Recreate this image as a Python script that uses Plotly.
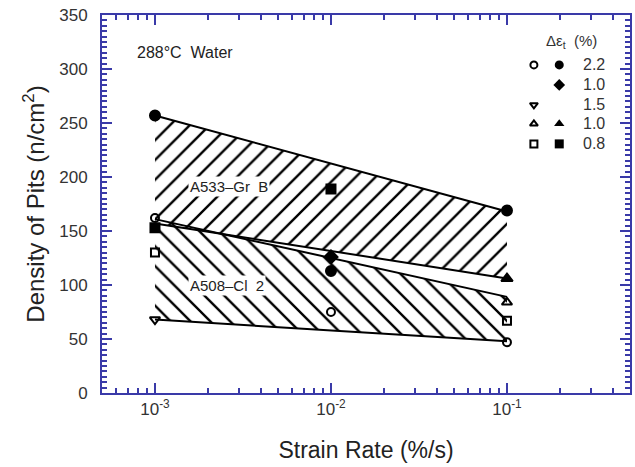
import numpy as np
import plotly.graph_objects as go

# ---------------- data ----------------
strain_rates = [1e-3, 1e-2, 1e-1]

# series: (values at 1e-3, 1e-2, 1e-1); None = no point
filled_circle_22 = [257, 113, 169]
open_circle_22 = [162, 75, 47]
filled_diamond_10 = [None, 126, None]
open_tridown_15 = [68, None, None]
open_triup_10 = [None, None, 84]
filled_triup_10 = [None, None, 106]
open_square_08 = [130, None, 67]
filled_square_08 = [153, 189, None]

# scatter bands (values at 1e-3 and 1e-1)
band_x = [1e-3, 1e-1]
a533_upper = [257, 168]
a533_lower = [157, 106]
a508_upper = [161, 89]
a508_lower = [68, 48]

band_labels = ["A533\u2013Gr  B", "A508\u2013Cl  2"]
legend_values = ["2.2", "1.0", "1.5", "1.0", "0.8"]

y_ticks = [0, 50, 100, 150, 200, 250, 300, 350]
x_ticks = [1e-3, 1e-2, 1e-1]
x_ticktext = ["10<sup>-3</sup>", "10<sup>-2</sup>", "10<sup>-1</sup>"]

# ---------------- figure ----------------
AX = "#3a3aa8"
FONT = "Liberation Sans, Arial, sans-serif"
fig = go.Figure()


def band(upper, lower, shape):
    xs = band_x + band_x[::-1]
    ys = upper + lower[::-1]
    fig.add_trace(go.Scatter(
        x=xs, y=ys, mode="lines", fill="toself",
        line=dict(width=0, color="rgba(0,0,0,0)"),
        fillcolor="rgba(0,0,0,0)",
        fillpattern=dict(shape=shape, fgcolor="#000000", fgopacity=1,
                         bgcolor="rgba(0,0,0,0)", fillmode="replace",
                         size=14, solidity=0.17),
        hoverinfo="skip", showlegend=False))
    for edge in (upper, lower):
        fig.add_trace(go.Scatter(x=band_x, y=edge, mode="lines",
                                 line=dict(color="black", width=2),
                                 hoverinfo="skip", showlegend=False))


band(a533_upper, a533_lower, "/")
band(a508_upper, a508_lower, "\\")

series = [
    (open_circle_22, "circle-open", 8),
    (filled_circle_22, "circle", 10),
    (filled_diamond_10, "diamond", 10),
    (open_tridown_15, "triangle-down-open", 9),
    (open_triup_10, "triangle-up-open", 9),
    (filled_triup_10, "triangle-up", 10),
    (open_square_08, "square-open", 8),
    (filled_square_08, "square", 9),
]
for vals, sym, sz in series:
    fig.add_trace(go.Scatter(
        x=strain_rates, y=vals, mode="markers",
        marker=dict(symbol=sym, size=sz, color="black",
                    line=dict(color="black", width=2)),
        cliponaxis=False, showlegend=False))

# custom legend on an overlay axis (0..1 over plot area)
leg_rows_y = [0.868, 0.815, 0.762, 0.712, 0.659]
leg_open = ["circle-open", None, "triangle-down-open", "triangle-up-open", "square-open"]
leg_fill = ["circle", "diamond", None, "triangle-up", "square"]
for i, yv in enumerate(leg_rows_y):
    if leg_open[i]:
        fig.add_trace(go.Scatter(x=[0.818], y=[yv], xaxis="x2", yaxis="y2", mode="markers",
                                 marker=dict(symbol=leg_open[i], size=7, color="black",
                                             line=dict(color="black", width=2)),
                                 showlegend=False, hoverinfo="skip"))
    if leg_fill[i]:
        fig.add_trace(go.Scatter(x=[0.866], y=[yv], xaxis="x2", yaxis="y2", mode="markers",
                                 marker=dict(symbol=leg_fill[i], size=9, color="black"),
                                 showlegend=False, hoverinfo="skip"))
    fig.add_annotation(x=0.956, y=yv, xref="paper", yref="paper", text=legend_values[i],
                       showarrow=False, xanchor="right", yanchor="middle",
                       font=dict(family=FONT, size=16, color="#333"))
fig.add_annotation(x=0.89, y=0.931, xref="paper", yref="paper",
                   text="\u0394\u03b5<sub>t</sub>  (%)",
                   showarrow=False, xanchor="center", yanchor="middle",
                   font=dict(family=FONT, size=15, color="#333"))

fig.add_annotation(x=0.0625, y=0.9, xref="paper", yref="paper", text="288\u00b0C  Water",
                   showarrow=False, xanchor="left", yanchor="middle",
                   font=dict(family=FONT, size=16, color="#222"))

fig.add_annotation(x=np.log10(1.55e-3), y=191, text=band_labels[0], showarrow=False,
                   xanchor="left", font=dict(family=FONT, size=15, color="#222"), bgcolor="white")
fig.add_annotation(x=np.log10(1.55e-3), y=100, text=band_labels[1], showarrow=False,
                   xanchor="left", font=dict(family=FONT, size=15, color="#222"), bgcolor="white")

minor_x = [m * 10.0 ** e for e in (-4, -3, -2, -1) for m in range(2, 10)]
minor_x = [v for v in minor_x if 5e-4 <= v <= 0.5]

fig.update_layout(
    width=635, height=467,
    margin=dict(l=102, r=5, t=15, b=74),
    paper_bgcolor="white", plot_bgcolor="white",
    font=dict(family=FONT, color="#333"),
    xaxis=dict(type="log", range=[np.log10(5e-4), np.log10(0.5)],
               tickvals=x_ticks, ticktext=x_ticktext, automargin=False,
               ticks="inside", ticklen=10, tickcolor=AX, tickwidth=1.5,
               minor=dict(tickvals=minor_x, ticks="inside", ticklen=5, tickcolor=AX, tickwidth=1.5),
               showline=True, linecolor=AX, linewidth=2, mirror="allticks",
               showgrid=False, zeroline=False,
               tickfont=dict(size=17, color="#333"),
               title=dict(text="Strain Rate (%/s)", font=dict(size=23, color="#222"), standoff=23)),
    yaxis=dict(range=[0, 350], tickvals=y_ticks, automargin=False,
               ticks="inside", ticklen=10, tickcolor=AX, tickwidth=1.5,
               minor=dict(dtick=5, ticks="inside", ticklen=5, tickcolor=AX, tickwidth=1.5),
               showline=True, linecolor=AX, linewidth=2, mirror="allticks",
               showgrid=False, zeroline=False,
               tickfont=dict(size=17, color="#333"), ticklabelstandoff=9,
               title=dict(text="Density of Pits (n/cm<sup>2</sup>)", font=dict(size=24, color="#222"), standoff=8)),
    xaxis2=dict(overlaying="x", range=[0, 1], visible=False, fixedrange=True),
    yaxis2=dict(overlaying="y", range=[0, 1], visible=False, fixedrange=True),
    showlegend=False,
)

fig.write_html("out.html", config={"displayModeBar": False},
               post_script="document.body.style.margin='0px';")
